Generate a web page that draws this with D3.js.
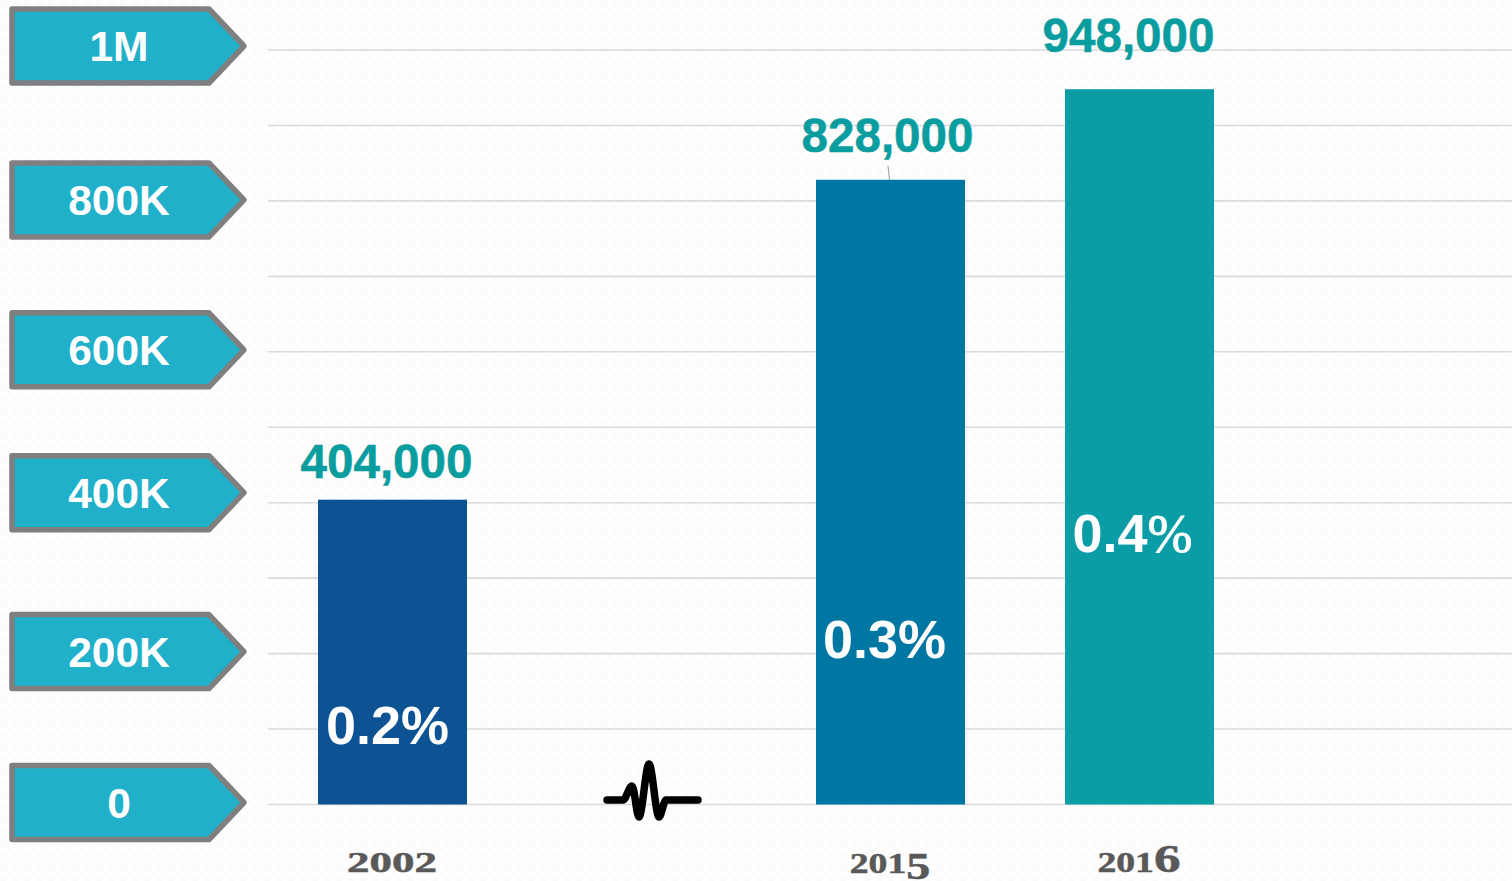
<!DOCTYPE html>
<html><head><meta charset="utf-8">
<script src="https://cdnjs.cloudflare.com/ajax/libs/d3/7.8.5/d3.min.js"></script>
<style>html,body{margin:0;padding:0;background:#fff;overflow:hidden}svg{display:block}</style>
</head><body><svg id="c" width="1512" height="881"></svg>
<script>
const years = ["2002", "2015", "2016"];
const values = [404000, 828000, 948000];
const valueLabels = ["404,000", "828,000", "948,000"];
const shares = ["0.2%", "0.3%", "0.4%"];
const barColors = ["#0d5394", "#0077a3", "#0a9da6"];
const tagValues = [1000000, 800000, 600000, 400000, 200000, 0];
const tagLabels = ["1M", "800K", "600K", "400K", "200K", "0"];
const gridValues = d3.range(0, 1000001, 100000);

const W = 1512, H = 881;
const svg = d3.select("#c");
const y = d3.scaleLinear().domain([0, 1000000]).range([804.5, 50]);
const x = d3.scalePoint().domain(["2002", "break", "2015", "2016"]).range([392.5, 1139.5]);
const barW = 149;

// faint paper texture
const defs = svg.append("defs");
const pat = defs.append("pattern").attr("id", "tex").attr("width", 12).attr("height", 12).attr("patternUnits", "userSpaceOnUse");
pat.append("rect").attr("width", 12).attr("height", 12).attr("fill", "#fefefe");
pat.append("rect").attr("x", 0).attr("y", 0).attr("width", 6).attr("height", 6).attr("fill", "#fbfbfb");
pat.append("rect").attr("x", 6).attr("y", 6).attr("width", 6).attr("height", 6).attr("fill", "#fcfcfc");
svg.append("rect").attr("width", W).attr("height", H).attr("fill", "url(#tex)");

// gridlines
svg.append("g").selectAll("line").data(gridValues).join("line")
  .attr("x1", 268).attr("x2", W)
  .attr("y1", d => y(d)).attr("y2", d => y(d))
  .attr("stroke", "#dadada").attr("stroke-width", 1.6);

// bars
svg.append("g").selectAll("rect").data(values).join("rect")
  .attr("x", (d, i) => x(years[i]) - barW / 2)
  .attr("width", barW)
  .attr("y", d => y(d))
  .attr("height", d => y(0) - y(d))
  .attr("fill", (d, i) => barColors[i]);

// leader on 2015 label
const lx = x("2015");
svg.append("line").attr("x1", lx - 2.5).attr("x2", lx - 1)
  .attr("y1", y(828000) - 14).attr("y2", y(828000))
  .attr("stroke", "#a6a6a6").attr("stroke-width", 1.2);

// value labels
const labelDx = [-6, -3, -11], labelDy = [-22, -28, -37];
svg.append("g").selectAll("text").data(values).join("text")
  .attr("x", (d, i) => x(years[i]) + labelDx[i])
  .attr("y", (d, i) => y(d) + labelDy[i])
  .attr("text-anchor", "middle")
  .attr("font-family", "Liberation Sans").attr("font-weight", 700)
  .attr("font-size", 48).attr("fill", "#0a9da0")
  .attr("stroke", "#0a9da0").attr("stroke-width", 0.5)
  .attr("textLength", 172).attr("lengthAdjust", "spacingAndGlyphs")
  .text((d, i) => valueLabels[i]);

// share labels
const shareY = [744, 658, 552], shareDx = [-5, -6, -7];
const shareSymbolFont = ["Liberation Sans", "Liberation Sans", "Liberation Serif"];
const shareSymbolWeight = [700, 700, 400];
const shareSymbolStroke = [0, 0, 0.9];
const share = svg.append("g").selectAll("text").data(shares).join("text")
  .attr("x", (d, i) => x(years[i]) + shareDx[i])
  .attr("y", (d, i) => shareY[i])
  .attr("text-anchor", "middle")
  .attr("fill", "#fff").attr("font-size", 54);
share.append("tspan").attr("font-family", "Liberation Sans").attr("font-weight", 700).text(d => d.slice(0, -1));
share.append("tspan")
  .attr("font-family", (d, i) => shareSymbolFont[i])
  .attr("font-weight", (d, i) => shareSymbolWeight[i])
  .attr("stroke", "#fff").attr("stroke-width", (d, i) => shareSymbolStroke[i])
  .text("%");

// year labels: old-style numerals, with the final digit rising or descending
const yearBaseline = [872, 873, 872];
const yearScaleX = [1.55, 1.3, 1.3];
const yearCx = [392, 890, 1139];
const yearG = svg.append("g").selectAll("text").data(years).join("text")
  .attr("transform", (d, i) => `translate(${yearCx[i]},${yearBaseline[i]}) scale(${yearScaleX[i]},1)`)
  .attr("text-anchor", "middle")
  .attr("font-family", "Liberation Serif").attr("font-weight", 700)
  .attr("font-size", 29).attr("fill", "#595959")
  .attr("stroke", "#595959").attr("stroke-width", 0.5);
yearG.selectAll("tspan").data(d => Array.from(d)).join("tspan")
  .attr("font-size", c => c === "5" ? 37 : c === "6" ? 41 : 29)
  .attr("dy", c => c === "5" ? 6 : 0)
  .text(c => c);

// arrow tags
const tagOffset = [-4, -1, -2, -10, -2, -2];
const tagPath = cy => {
  const p = d3.path();
  p.moveTo(12, cy - 37); p.lineTo(209, cy - 37); p.lineTo(244, cy); p.lineTo(209, cy + 37); p.lineTo(12, cy + 37); p.closePath();
  return p.toString();
};
const tag = svg.append("g").selectAll("g").data(tagValues).join("g");
tag.append("path")
  .attr("d", (d, i) => tagPath(y(d) + tagOffset[i]))
  .attr("fill", "#21b0ca").attr("stroke", "#7f7f7f").attr("stroke-width", 5.5).attr("stroke-linejoin", "round");
tag.append("text")
  .attr("x", 119).attr("y", (d, i) => y(d) + tagOffset[i] + 15)
  .attr("text-anchor", "middle")
  .attr("font-family", "Liberation Sans").attr("font-weight", 700)
  .attr("font-size", 42.5).attr("fill", "#fff")
  .text((d, i) => tagLabels[i]);

// axis break glyph
const breakX = d3.scaleLinear().domain([0, 100]).range([x("break") - 38.5, x("break") + 61.5]);
const breakY = d3.scaleLinear().domain([0, 40]).range([800, 760]);
const breakPts = [[4,0],[20,0],[29,14],[36,-17],[46,36],[56,-17],[63,0],[95,0]];
svg.append("path")
  .attr("d", d3.line().x(d => breakX(d[0])).y(d => breakY(d[1])).curve(d3.curveMonotoneX)(breakPts))
  .attr("fill", "none").attr("stroke", "#000").attr("stroke-width", 7.5)
  .attr("stroke-linecap", "round").attr("stroke-linejoin", "round");
</script></body></html>
